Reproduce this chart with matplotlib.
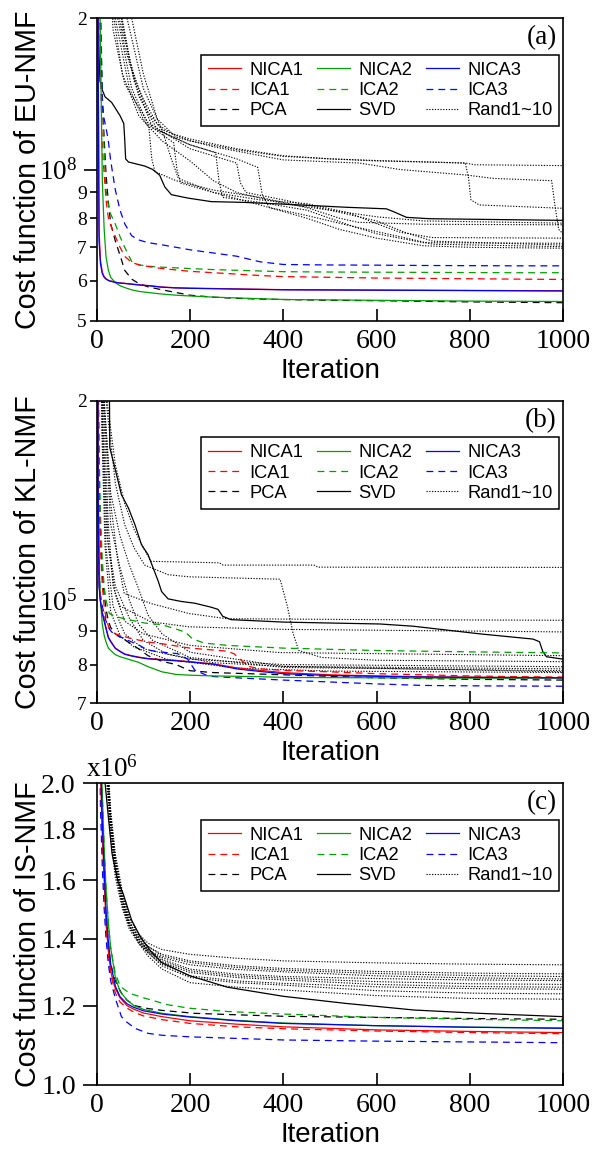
import matplotlib
matplotlib.use('Agg')
import matplotlib.pyplot as plt
from matplotlib.lines import Line2D
from matplotlib.ticker import FixedLocator, FixedFormatter, NullLocator
import numpy as np

plt.rcParams['font.family'] = 'Liberation Serif'
plt.rcParams['mathtext.fontset'] = 'custom'
plt.rcParams['mathtext.rm'] = 'Liberation Serif'
plt.rcParams['mathtext.it'] = 'Liberation Serif:italic'
plt.rcParams['mathtext.bf'] = 'Liberation Serif:bold'
SANS = 'Liberation Sans'

# ---------------- Panel (a): EU-NMF, values in units of 1e7 ----------------
EU_NICA1 = [(1,60),(3,20),(5,7.6),(8,6.6),(12,6.25),(16,6.12),(20,6.06),(25,6.02),(30,6.0),(40,5.965),(50,5.945),(60,5.935),(75,5.915),(90,5.895),(110,5.875),(140,5.835),(170,5.815),(200,5.805),(250,5.795),(300,5.785),(350,5.775),(400,5.765),(500,5.76),(600,5.755),(700,5.75),(800,5.745),(900,5.74),(1000,5.735)]
EU_NICA2 = [(1,80),(3,40),(5,28),(8,18),(12,9.5),(16,7.6),(20,6.7),(25,6.3),(30,6.1),(40,5.95),(50,5.87),(60,5.82),(75,5.76),(90,5.72),(110,5.69),(140,5.65),(170,5.62),(200,5.60),(250,5.57),(300,5.55),(350,5.53),(400,5.51),(500,5.50),(600,5.49),(700,5.48),(800,5.47),(900,5.465),(1000,5.46)]
EU_NICA3 = [(1,60),(3,18),(5,7.2),(8,6.5),(12,6.2),(16,6.1),(20,6.05),(25,6.01),(30,5.99),(40,5.96),(50,5.94),(60,5.93),(75,5.91),(90,5.89),(110,5.87),(140,5.83),(170,5.81),(200,5.80),(250,5.79),(300,5.78),(350,5.77),(400,5.76),(500,5.755),(600,5.75),(700,5.745),(800,5.74),(900,5.735),(1000,5.73)]
EU_ICA1 = [(1,80),(3,40),(5,28),(8,16),(12,11),(16,9.8),(20,8.7),(25,8.0),(30,7.75),(40,7.35),(50,7.0),(60,6.72),(75,6.53),(90,6.46),(110,6.41),(140,6.35),(170,6.31),(200,6.27),(250,6.23),(300,6.19),(350,6.15),(400,6.12),(500,6.10),(600,6.08),(700,6.07),(800,6.06),(900,6.05),(1000,6.04)]
EU_ICA2 = [(1,80),(3,40),(5,30),(8,22),(12,14),(16,10.8),(20,9.1),(25,8.5),(30,8.15),(40,7.78),(50,7.35),(60,7.0),(75,6.56),(90,6.46),(110,6.42),(140,6.39),(170,6.37),(200,6.35),(250,6.32),(300,6.30),(350,6.28),(400,6.26),(500,6.25),(600,6.245),(700,6.24),(800,6.235),(900,6.23),(1000,6.23)]
EU_ICA3 = [(1,80),(3,40),(5,30),(8,20),(12,13.5),(16,12.6),(20,12.1),(25,11.4),(30,10.4),(40,9.1),(50,8.3),(60,7.8),(75,7.38),(90,7.24),(110,7.15),(140,7.08),(170,7.0),(200,6.92),(250,6.82),(300,6.72),(350,6.55),(400,6.47),(500,6.455),(600,6.45),(700,6.44),(800,6.435),(900,6.43),(1000,6.43)]
EU_PCA = [(1,80),(3,40),(5,28),(8,20),(12,14),(16,11.5),(20,9.8),(25,8.6),(30,7.8),(40,7.2),(50,6.75),(60,6.3),(75,6.05),(90,5.93),(110,5.84),(140,5.76),(170,5.69),(200,5.62),(250,5.57),(300,5.54),(350,5.52),(400,5.51),(500,5.49),(600,5.48),(700,5.465),(800,5.45),(900,5.44),(1000,5.43)]
EU_SVD = [(1,80),(3,22),(5,17),(7,15),(12,14.4),(18,13.95),(32,13.6),(50,12.8),(58,12.35),(60,11.5),(62,10.5),(68,10.35),(103,10.16),(120,10.0),(135,9.74),(146,9.23),(160,8.91),(196,8.77),(246,8.63),(317,8.6),(402,8.53),(535,8.41),(621,8.35),(639,8.22),(664,8.03),(714,7.98),(1000,7.92)]
EU_RAND = [
    [(1,200),(20,40),(40,22),(60,17.5),(80,15.2),(100,13.8),(130,12.3),(160,11.8),(200,11.5),(300,11.0),(400,10.65),(500,10.5),(600,10.4),(700,10.35),(790,10.3),(810,10.22),(1000,10.18)],
    [(1,200),(25,40),(45,22),(70,16.5),(90,14.5),(110,13.0),(140,12.0),(200,11.4),(300,10.95),(400,10.62),(500,10.5),(600,10.42),(700,10.36),(790,10.3),(797,9.6),(802,8.7),(820,8.5),(1000,8.37)],
    [(1,200),(60,40),(75,20),(100,15.5),(130,12.6),(170,11.6),(250,11.1),(400,10.45),(563,10.3),(650,10.0),(792,9.75),(850,9.6),(975,9.5),(982,8.5),(990,7.6),(1000,7.44)],
    [(1,200),(20,40),(40,20),(70,14.5),(100,12.6),(112,12.1),(118,10.5),(125,9.9),(170,9.5),(250,9.1),(350,8.8),(450,8.4),(520,8.0),(560,7.85),(700,7.78),(1000,7.76)],
    [(1,200),(25,40),(45,20),(75,14.5),(110,12.3),(165,11.3),(172,10.0),(180,9.4),(250,9.0),(350,8.7),(450,8.55),(540,8.2),(600,7.8),(650,7.5),(720,7.32),(1000,7.30)],
    [(1,200),(30,40),(50,21),(80,15),(120,12.1),(200,11.2),(255,10.8),(262,9.5),(270,8.8),(350,8.6),(450,8.3),(550,7.7),(600,7.45),(700,7.15),(1000,7.13)],
    [(1,200),(20,35),(35,19),(60,14.8),(110,12.4),(200,11.0),(300,10.3),(308,9.4),(320,9.0),(400,8.7),(500,8.3),(600,7.9),(660,7.5),(720,7.2),(1000,7.07)],
    [(1,200),(30,40),(55,19),(90,14.0),(130,12.0),(200,11.2),(300,10.5),(345,10.1),(355,8.9),(370,8.4),(450,8.1),(550,7.7),(650,7.35),(720,7.1),(1000,7.02)],
    [(1,200),(15,40),(30,22),(55,15.5),(90,12.8),(140,11.4),(200,10.4),(250,9.5),(300,9.0),(400,8.55),(500,8.3),(600,8.05),(700,7.9),(1000,7.82)],
    [(1,200),(40,40),(65,20),(100,14.5),(140,12.0),(160,10.5),(175,9.6),(250,9.0),(350,8.5),(450,8.0),(520,7.6),(600,7.3),(700,7.05),(800,7.0),(1000,6.97)],
]

# ---------------- Panel (b): KL-NMF, values in units of 1e4 ----------------
KL_NICA1 = [(1,40),(3,15),(5,10.6),(8,10.0),(12,9.6),(16,9.35),(20,9.1),(25,8.8),(30,8.68),(40,8.47),(50,8.38),(60,8.30),(75,8.25),(90,8.21),(110,8.17),(140,8.14),(170,8.115),(200,8.08),(250,8.02),(300,7.91),(350,7.84),(400,7.78),(500,7.72),(600,7.69),(700,7.67),(800,7.66),(900,7.65),(1000,7.645)]
KL_NICA2 = [(1,40),(3,16),(5,11.5),(8,10.0),(12,9.2),(16,8.85),(20,8.65),(25,8.47),(30,8.4),(40,8.28),(50,8.22),(60,8.18),(75,8.12),(90,8.06),(110,7.94),(140,7.80),(170,7.73),(200,7.71),(250,7.69),(300,7.68),(350,7.67),(400,7.65),(500,7.645),(600,7.64),(700,7.635),(800,7.63),(900,7.63),(1000,7.63)]
KL_NICA3 = [(1,40),(3,15),(5,10.5),(8,9.95),(12,9.55),(16,9.3),(20,9.05),(25,8.78),(30,8.66),(40,8.46),(50,8.37),(60,8.29),(75,8.24),(90,8.2),(110,8.16),(140,8.13),(170,8.105),(200,8.07),(250,8.01),(300,7.88),(350,7.81),(400,7.75),(500,7.70),(600,7.68),(700,7.66),(800,7.65),(900,7.645),(1000,7.64)]
KL_ICA1 = [(1,50),(3,22),(5,15),(8,12),(12,10.5),(16,9.8),(20,9.4),(25,9.15),(30,9.0),(40,8.9),(70,8.77),(110,8.65),(140,8.6),(200,8.47),(280,8.38),(295,8.3),(310,8.12),(325,7.95),(350,7.88),(400,7.84),(500,7.80),(600,7.75),(700,7.72),(800,7.69),(900,7.67),(1000,7.66)]
KL_ICA2 = [(1,50),(3,25),(5,17),(8,13.5),(12,11.5),(16,10.5),(20,10.0),(27,9.55),(43,9.44),(68,9.35),(103,9.24),(139,9.19),(170,9.05),(190,8.95),(205,8.75),(230,8.62),(280,8.55),(400,8.47),(600,8.40),(800,8.36),(1000,8.33)]
KL_ICA3 = [(1,40),(3,14),(5,11),(8,10.2),(12,9.8),(19,9.35),(27,9.05),(35,8.91),(59,8.75),(92,8.55),(108,8.42),(133,8.36),(173,8.31),(195,8.15),(210,7.85),(240,7.68),(300,7.64),(400,7.58),(500,7.53),(600,7.48),(700,7.44),(800,7.43),(1000,7.42)]
KL_PCA = [(1,50),(3,22),(5,15),(8,12.5),(12,11.0),(16,10.2),(20,9.7),(25,9.3),(30,9.1),(40,8.9),(50,8.8),(60,8.72),(75,8.58),(90,8.45),(110,8.25),(140,8.09),(170,8.0),(200,7.83),(250,7.78),(300,7.76),(350,7.74),(400,7.72),(500,7.68),(600,7.64),(700,7.62),(800,7.60),(900,7.59),(1000,7.58)]
KL_SVD = [(1,400),(26,30),(28,17),(39,15.83),(53,14.43),(68,13.78),(82,13.0),(96,12.13),(110,11.72),(121,11.19),(132,10.68),(139,10.31),(153,10.05),(181,9.96),(210,9.9),(246,9.76),(260,9.69),(270,9.46),(288,9.35),(402,9.27),(607,9.21),(678,9.14),(749,9.02),(821,8.9),(935,8.74),(949,8.66),(956,8.37),(964,8.22),(1000,8.15)]
KL_RAND = [
    [(1,400),(18,30),(22,20),(40,16),(60,14),(80,12.8),(100,12.0),(116,11.45),(263,11.39),(271,11.30),(466,11.30),(474,11.22),(1000,11.21)],
    [(1,400),(15,30),(20,20),(40,15),(60,13),(80,12.0),(103,11.3),(153,10.93),(198,10.85),(393,10.76),(409,9.77),(421,8.91),(433,8.40),(482,8.2),(600,8.12),(1000,8.08)],
    [(1,400),(12,30),(16,20),(30,14),(45,11.5),(59,10.24),(116,9.89),(198,9.55),(279,9.38),(600,9.35),(1000,9.33)],
    [(1,400),(10,30),(14,20),(25,13),(35,10.5),(50,9.8),(116,9.28),(198,9.12),(400,9.04),(1000,8.96)],
    [(1,400),(10,30),(14,18),(25,12),(40,10.2),(60,9.3),(100,8.9),(200,8.55),(392,8.34),(1000,8.25)],
    [(1,400),(8,30),(12,18),(20,12),(35,9.8),(60,8.9),(100,8.45),(200,8.15),(400,8.0),(1000,7.94)],
    [(1,400),(9,30),(13,18),(22,12.5),(40,10.5),(70,9.4),(100,8.7),(150,8.3),(250,8.05),(400,7.95),(1000,7.88)],
    [(1,400),(10,30),(15,20),(30,13),(50,11.2),(70,10.0),(90,9.2),(120,8.7),(200,8.2),(400,7.92),(1000,7.83)],
    [(1,400),(7,30),(11,18),(18,12),(30,9.6),(50,8.85),(80,8.5),(150,8.15),(300,7.9),(500,7.82),(1000,7.78)],
    [(1,400),(12,30),(16,20),(30,14.5),(50,12.5),(70,11.3),(90,10.4),(110,9.5),(140,8.9),(200,8.35),(400,7.95),(1000,7.80)],
]

# ---------------- Panel (c): IS-NMF, values in units of 1e6 ----------------
IS_NICA1 = [(1,5),(4,3),(8,2.05),(12,1.78),(16,1.6),(20,1.45),(25,1.36),(30,1.3),(35,1.27),(40,1.248),(50,1.222),(65,1.2),(80,1.19),(100,1.18),(140,1.17),(200,1.159),(300,1.15),(400,1.143),(600,1.135),(800,1.131),(1000,1.128)]
IS_NICA2 = [(1,5),(4,3.2),(8,2.3),(12,1.95),(16,1.72),(20,1.57),(25,1.45),(30,1.37),(40,1.28),(50,1.24),(65,1.215),(80,1.2),(100,1.19),(140,1.179),(200,1.17),(300,1.16),(400,1.153),(600,1.146),(800,1.142),(1000,1.14)]
IS_NICA3 = [(1,5),(4,3.1),(8,2.15),(12,1.83),(16,1.64),(20,1.49),(25,1.39),(30,1.32),(40,1.255),(50,1.225),(65,1.205),(80,1.195),(100,1.186),(140,1.177),(200,1.169),(300,1.159),(400,1.152),(600,1.146),(800,1.142),(1000,1.139)]
IS_ICA1 = [(1,5),(4,3),(8,2.0),(12,1.75),(16,1.57),(20,1.44),(25,1.35),(30,1.29),(40,1.235),(50,1.21),(65,1.193),(80,1.182),(100,1.172),(140,1.162),(200,1.152),(300,1.143),(400,1.138),(600,1.132),(800,1.128),(1000,1.125)]
IS_ICA2 = [(1,5),(4,3.2),(8,2.3),(12,1.95),(16,1.72),(20,1.57),(25,1.45),(30,1.37),(40,1.29),(51,1.254),(65,1.24),(76,1.232),(100,1.222),(116,1.216),(150,1.203),(198,1.193),(280,1.184),(400,1.177),(600,1.168),(800,1.163),(1000,1.159)]
IS_ICA3 = [(1,5),(4,2.8),(8,1.9),(12,1.65),(16,1.5),(20,1.4),(25,1.32),(30,1.27),(40,1.22),(53,1.17),(65,1.155),(82,1.139),(110,1.126),(140,1.121),(200,1.117),(300,1.113),(400,1.109),(600,1.106),(800,1.104),(1000,1.102)]
IS_PCA = [(1,5),(4,3.0),(8,2.1),(12,1.8),(16,1.6),(20,1.47),(25,1.38),(30,1.32),(40,1.27),(53,1.235),(65,1.215),(82,1.2),(110,1.192),(140,1.187),(210,1.179),(300,1.175),(400,1.171),(600,1.168),(800,1.165),(1000,1.163)]
IS_SVD = [(1,6),(10,2.6),(18,2.0),(25,1.85),(33,1.7),(45,1.6),(57,1.55),(75,1.46),(92,1.41),(103,1.385),(116,1.36),(139,1.325),(200,1.285),(280,1.252),(400,1.226),(535,1.206),(600,1.198),(680,1.188),(820,1.179),(1000,1.17)]
IS_RAND_IT = [1, 12, 20, 30, 40, 55, 70, 90, 110, 140, 200, 300, 400, 600, 800, 1000]
IS_RAND = [
    [10, 2.8, 2.2, 1.85, 1.68, 1.55, 1.47, 1.415, 1.385, 1.365, 1.35, 1.338, 1.33, 1.324, 1.32, 1.318],
    [10, 2.7, 2.15, 1.82, 1.66, 1.53, 1.455, 1.405, 1.375, 1.35, 1.33, 1.315, 1.307, 1.298, 1.293, 1.291],
    [10, 2.9, 2.25, 1.88, 1.70, 1.56, 1.47, 1.41, 1.375, 1.345, 1.325, 1.31, 1.302, 1.292, 1.286, 1.283],
    [10, 2.6, 2.1, 1.78, 1.63, 1.51, 1.44, 1.395, 1.365, 1.34, 1.318, 1.304, 1.297, 1.285, 1.279, 1.276],
    [10, 2.75, 2.18, 1.83, 1.66, 1.53, 1.45, 1.40, 1.365, 1.335, 1.305, 1.29, 1.283, 1.277, 1.273, 1.271],
    [10, 2.65, 2.12, 1.8, 1.64, 1.51, 1.44, 1.39, 1.36, 1.33, 1.3, 1.285, 1.278, 1.268, 1.262, 1.26],
    [10, 2.85, 2.22, 1.86, 1.68, 1.54, 1.455, 1.40, 1.36, 1.325, 1.295, 1.28, 1.273, 1.26, 1.254, 1.252],
    [10, 2.55, 2.05, 1.76, 1.61, 1.5, 1.43, 1.385, 1.355, 1.32, 1.285, 1.27, 1.263, 1.253, 1.248, 1.246],
    [10, 2.7, 2.15, 1.81, 1.65, 1.52, 1.44, 1.39, 1.355, 1.315, 1.28, 1.265, 1.258, 1.242, 1.235, 1.233],
    [10, 2.8, 2.2, 1.84, 1.67, 1.53, 1.445, 1.385, 1.345, 1.305, 1.265, 1.252, 1.244, 1.228, 1.22, 1.218],
]

LABELS = ['NICA1', 'NICA2', 'NICA3', 'ICA1', 'ICA2', 'ICA3', 'PCA', 'SVD', 'Rand1~10']
X_TICKS = [0, 200, 400, 600, 800, 1000]

# ---------------- styles ----------------
RED, GREEN, BLUE, BLACK = '#ff0000', '#00a000', '#0000ff', '#000000'
DASH = (0, (5.5, 4.0))
DOT = (0, (1.1, 1.4))
LW = 0.9
STYLE = {
    'NICA1': dict(color=RED, ls='-'), 'NICA2': dict(color=GREEN, ls='-'), 'NICA3': dict(color=BLUE, ls='-'),
    'ICA1': dict(color=RED, ls=DASH), 'ICA2': dict(color=GREEN, ls=DASH), 'ICA3': dict(color=BLUE, ls=DASH),
    'PCA': dict(color=BLACK, ls=DASH), 'SVD': dict(color=BLACK, ls='-'), 'Rand1~10': dict(color=BLACK, ls=DOT),
}

W, H = 594, 1151
fig = plt.figure(figsize=(W / 100, H / 100), dpi=100)


def px_axes(left, top, right, bottom):
    return fig.add_axes([left / W, 1 - bottom / H, (right - left) / W, (bottom - top) / H])


def plot_pairs(ax, pairs, scale, name, lw=LW):
    x, y = zip(*pairs)
    ax.plot(x, np.array(y) * scale, lw=lw, **STYLE[name])


def draw_panel(ax, scale, named, rand_curves):
    for r in rand_curves:
        plot_pairs(ax, r, scale, 'Rand1~10', lw=0.8)
    for name in ['SVD', 'PCA', 'ICA2', 'ICA1', 'ICA3', 'NICA2', 'NICA1', 'NICA3']:
        plot_pairs(ax, named[name], scale, name)


def common_style(ax, ylabel, tag):
    ax.set_xlim(0, 1000)
    ax.xaxis.set_major_locator(FixedLocator(X_TICKS))
    ax.xaxis.set_minor_locator(NullLocator())
    ax.tick_params(axis='x', which='both', direction='in', length=9, width=1.2, pad=6, labelsize=20,
                   top=False)
    ax.tick_params(axis='y', which='both', right=False)
    for sp in ax.spines.values():
        sp.set_linewidth(1.2)
    ax.set_xlabel('Iteration', fontfamily=SANS, fontsize=20, va='top')
    ax.xaxis.set_label_coords(0.5, -0.124)
    ax.set_ylabel('Cost function of ' + tag, fontfamily=SANS, fontsize=20.6)
    ax.yaxis.label.set_va('center')
    ax.yaxis.set_label_coords(-0.147, 0.5)
    ax.text(0.986, 0.935, ylabel, transform=ax.transAxes, ha='right', va='center', fontsize=19.5)
    handles = []
    order = ['NICA1', 'ICA1', 'PCA', 'NICA2', 'ICA2', 'SVD', 'NICA3', 'ICA3', 'Rand1~10']
    for name in order:
        handles.append(Line2D([], [], lw=LW if name != 'Rand1~10' else 0.8, label=name, **STYLE[name]))
    leg = ax.legend(handles=handles, ncol=3, loc='upper right', bbox_to_anchor=(0.9916, 0.879),
                    borderaxespad=0, fancybox=False, framealpha=1, edgecolor='black',
                    prop={'family': SANS, 'size': 13.2}, handlelength=1.8, handletextpad=0.45,
                    columnspacing=0.75, labelspacing=0.18, borderpad=0.38)
    leg.get_frame().set_linewidth(1.1)


def log_y(ax, lo, hi, major, major_label, minors, minor_labels):
    ax.set_yscale('log')
    ax.set_ylim(lo, hi)
    ax.yaxis.set_major_locator(FixedLocator([major]))
    ax.yaxis.set_major_formatter(FixedFormatter([major_label]))
    ax.yaxis.set_minor_locator(FixedLocator(minors))
    ax.yaxis.set_minor_formatter(FixedFormatter(minor_labels))
    ax.tick_params(axis='y', which='major', direction='out', length=9.6, width=1.2, pad=4.5, labelsize=19.5)
    ax.tick_params(axis='y', which='minor', direction='out', length=5.3, width=1.2, pad=1.9, labelsize=14)


# ---------------- panel (a) ----------------
ax_a = px_axes(96.7, 18.3, 563.3, 320.7)
draw_panel(ax_a, 1e7, dict(NICA1=EU_NICA1, NICA2=EU_NICA2, NICA3=EU_NICA3, ICA1=EU_ICA1, ICA2=EU_ICA2,
                           ICA3=EU_ICA3, PCA=EU_PCA, SVD=EU_SVD), EU_RAND)
log_y(ax_a, 5e7, 2e8, 1e8, r'$10^8$', [5e7, 6e7, 7e7, 8e7, 9e7, 2e8], ['5', '6', '7', '8', '9', '2'])
common_style(ax_a, '(a)', 'EU-NMF')

# ---------------- panel (b) ----------------
ax_b = px_axes(96.7, 400.7, 563.3, 703)
draw_panel(ax_b, 1e4, dict(NICA1=KL_NICA1, NICA2=KL_NICA2, NICA3=KL_NICA3, ICA1=KL_ICA1, ICA2=KL_ICA2,
                           ICA3=KL_ICA3, PCA=KL_PCA, SVD=KL_SVD), KL_RAND)
log_y(ax_b, 7e4, 2e5, 1e5, r'$10^5$', [7e4, 8e4, 9e4, 2e5], ['7', '8', '9', '2'])
common_style(ax_b, '(b)', 'KL-NMF')

# ---------------- panel (c) ----------------
ax_c = px_axes(96.7, 783.3, 563.3, 1085)
is_rand_pairs = [list(zip(IS_RAND_IT, vals)) for vals in IS_RAND]
draw_panel(ax_c, 1e6, dict(NICA1=IS_NICA1, NICA2=IS_NICA2, NICA3=IS_NICA3, ICA1=IS_ICA1, ICA2=IS_ICA2,
                           ICA3=IS_ICA3, PCA=IS_PCA, SVD=IS_SVD), is_rand_pairs)
ax_c.set_yscale('log')
ax_c.set_ylim(1e6, 2e6)
C_TICKS = [1.0, 1.2, 1.4, 1.6, 1.8, 2.0]
ax_c.yaxis.set_major_locator(FixedLocator([t * 1e6 for t in C_TICKS]))
ax_c.yaxis.set_major_formatter(FixedFormatter(['%.1f' % t for t in C_TICKS]))
ax_c.yaxis.set_minor_locator(NullLocator())
ax_c.tick_params(axis='y', which='major', direction='out', length=10, width=1.2, pad=5, labelsize=20)
common_style(ax_c, '(c)', 'IS-NMF')
ax_c.text(-0.024, 1.021, r'x$10^6$', transform=ax_c.transAxes, ha='left', va='baseline', fontsize=19.5)

fig.savefig('out.png', dpi=100)
